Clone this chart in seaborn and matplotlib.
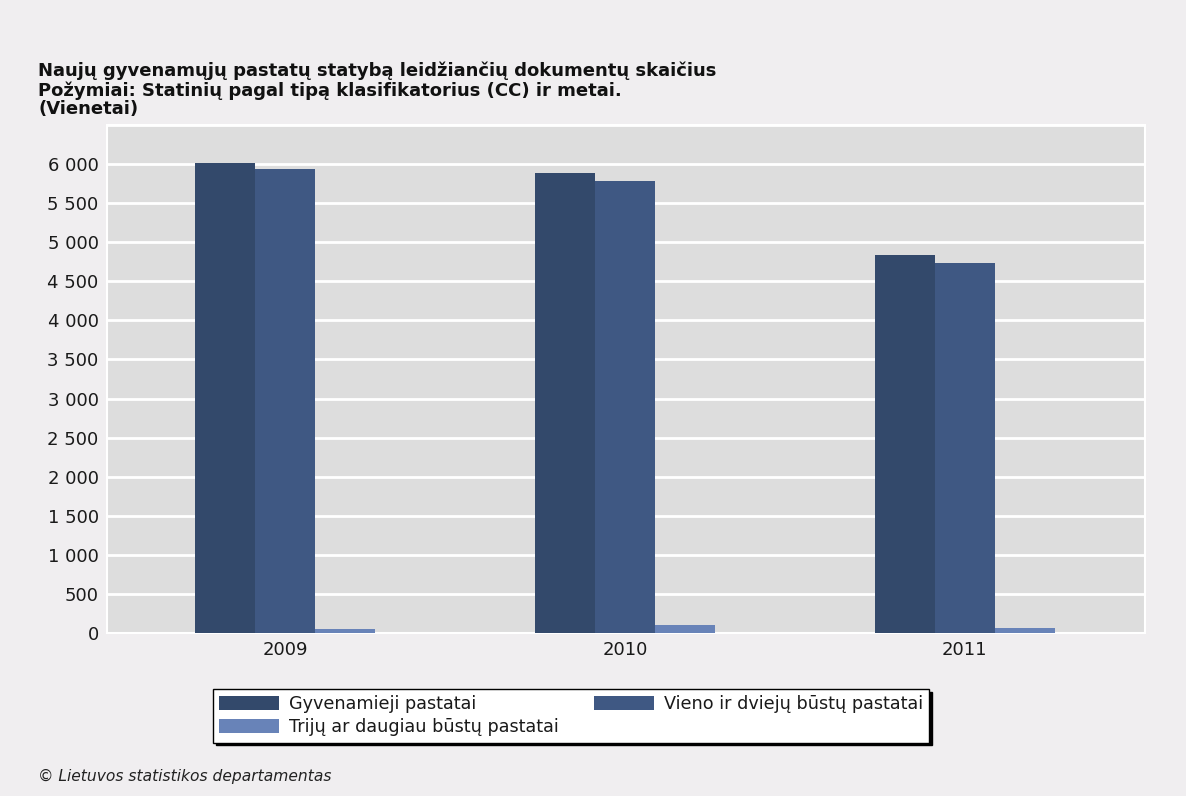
import numpy as np
import pandas as pd
import matplotlib
matplotlib.use("Agg")
import matplotlib.pyplot as plt
from matplotlib.ticker import FuncFormatter, MultipleLocator
import seaborn as sns

# ---- data ----
years = ["2009", "2010", "2011"]
series_names = ["Gyvenamieji pastatai",
                "Vieno ir dviejų būstų pastatai",
                "Trijų ar daugiau būstų pastatai"]
gyvenamieji = [6012, 5888, 4838]
vieno_dvieju = [5939, 5786, 4732]
triju_daugiau = [45, 100, 68]
colors = ["#33496b", "#3f5883", "#6883b8"]

title_lines = ["Naujų gyvenamųjų pastatų statybą leidžiančių dokumentų skaičius",
               "Požymiai: Statinių pagal tipą klasifikatorius (CC) ir metai.",
               "(Vienetai)"]
footer = "© Lietuvos statistikos departamentas"

rows = []
for name, vals in zip(series_names, [gyvenamieji, vieno_dvieju, triju_daugiau]):
    for y, v in zip(years, vals):
        rows.append({"year": y, "type": name, "value": v})
df = pd.DataFrame(rows)

sns.set_theme(style="white")
plt.rcParams['font.family'] = ['DejaVu Sans']

bg = "#f0eef0"
fig = plt.figure(figsize=(11.86, 7.96), dpi=100, facecolor=bg)
ax = fig.add_axes([107/1186, 1-633/796, (1145-107)/1186, (633-125)/796])
ax.set_facecolor("#dddddd")

sns.barplot(data=df, x="year", y="value", hue="type", order=years,
            hue_order=series_names, palette=colors, saturation=1,
            width=0.53, linewidth=0, ax=ax, errorbar=None, zorder=3)

ax.set_ylim(0, 6500)
ax.set_xlim(-0.524, 2.53)
ax.yaxis.set_major_locator(MultipleLocator(500))
ax.yaxis.set_major_formatter(FuncFormatter(lambda v, p: f"{int(v):,}".replace(",", " ") if v <= 6000 else ""))
ax.grid(axis="y", color="white", linewidth=2, zorder=0)
ax.set_axisbelow(True)
ax.set_xlabel("")
ax.set_ylabel("")
ax.tick_params(axis="both", length=0, labelsize=13, labelcolor="#1a1a1a")
ax.tick_params(axis="y", pad=6)
ax.tick_params(axis="x", pad=6)
for s in ax.spines.values():
    s.set_color("white")
    s.set_linewidth(1.5)

handles, labels = ax.get_legend_handles_labels()
ax.get_legend().remove()
order = [0, 2, 1]
leg = fig.legend([handles[i] for i in order], [labels[i] for i in order],
                 ncol=2, loc="upper left", bbox_to_anchor=(213/1186, 1-689/796),
                 frameon=True, fancybox=False, shadow={"color": "black", "alpha": 1},
                 fontsize=12.7, handlelength=3.4, handleheight=0.85, handletextpad=0.55,
                 columnspacing=2.0, labelspacing=0.3, borderpad=0.35, borderaxespad=0)
leg.get_frame().set_edgecolor("black")
leg.get_frame().set_linewidth(1)
leg.get_frame().set_facecolor("white")
for t in leg.get_texts():
    t.set_color("#1a1a1a")

fig.text(38/1186, 1-62/796, "\n".join(title_lines), ha="left", va="top",
         fontsize=13, fontweight="bold", color="#111111", linespacing=1.04)
fig.text(38/1186, 1-776/796, footer, ha="left", va="center",
         fontsize=11.2, style="italic", color="#222222")

fig.savefig("out.png", dpi=100, facecolor=bg)
